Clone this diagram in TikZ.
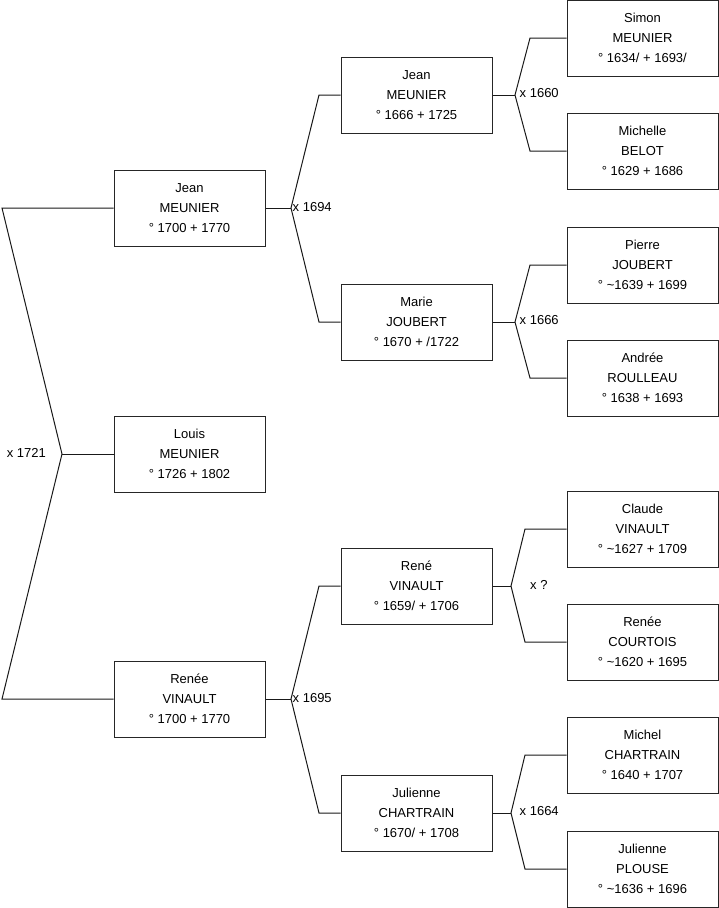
\documentclass[tikz,border=0pt]{standalone}
\usepackage{fontspec}
\setmainfont{Liberation Sans}
\begin{document}
\begin{tikzpicture}[x=1pt,y=-1pt,
  person/.style={draw=black!85, line width=1pt, minimum width=151pt, minimum height=76pt,
    inner sep=0pt, align=center, font=\fontsize{13}{20}\selectfont, text=black},
  link/.style={draw=black!90, line width=1pt},
  mlabel/.style={font=\fontsize{13}{15}\selectfont, inner sep=0pt, text=black}]
\useasboundingbox (0,0) rectangle (719,908);
% generation 1
\node[person] (JM1) at (189.5,208) {Jean\\MEUNIER\\° 1700 + 1770};
\node[person] (LM) at (189.5,454) {Louis\\MEUNIER\\° 1726 + 1802};
\node[person] (RV1) at (189.5,699) {Renée\\VINAULT\\° 1700 + 1770};
% generation 2
\node[person] (JM2) at (416.5,95) {Jean\\MEUNIER\\° 1666 + 1725};
\node[person] (MJ) at (416.5,322) {Marie\\JOUBERT\\° 1670 + /1722};
\node[person] (RV2) at (416.5,586) {René\\VINAULT\\° 1659/ + 1706};
\node[person] (JC) at (416.5,813) {Julienne\\CHARTRAIN\\° 1670/ + 1708};
% generation 3
\node[person] (SM) at (642.5,38) {Simon\\MEUNIER\\° 1634/ + 1693/};
\node[person] (MB) at (642.5,151) {Michelle\\BELOT\\° 1629 + 1686};
\node[person] (PJ) at (642.5,265) {Pierre\\JOUBERT\\° \textasciitilde1639 + 1699};
\node[person] (AR) at (642.5,378) {Andrée\\ROULLEAU\\° 1638 + 1693};
\node[person] (CV) at (642.5,529) {Claude\\VINAULT\\° \textasciitilde1627 + 1709};
\node[person] (RC) at (642.5,642) {Renée\\COURTOIS\\° \textasciitilde1620 + 1695};
\node[person] (MC) at (642.5,755) {Michel\\CHARTRAIN\\° 1640 + 1707};
\node[person] (JP) at (642.5,869) {Julienne\\PLOUSE\\° \textasciitilde1636 + 1696};
% junctions
\coordinate (a1) at (2,208);
\coordinate (a0) at (62,454);
\coordinate (a2) at (2,699);
\coordinate (b1) at (291,208);
\coordinate (b1u) at (319,95);
\coordinate (b1d) at (319,322);
\coordinate (b2) at (291,699);
\coordinate (b2u) at (319,586);
\coordinate (b2d) at (319,813);
\coordinate (c1) at (515,95);
\coordinate (c1u) at (530,38);
\coordinate (c1d) at (530,151);
\coordinate (c2) at (515,322);
\coordinate (c2u) at (530,265);
\coordinate (c2d) at (530,378);
\coordinate (c3) at (511,586);
\coordinate (c3u) at (525,529);
\coordinate (c3d) at (525,642);
\coordinate (c4) at (511,813);
\coordinate (c4u) at (525,755);
\coordinate (c4d) at (525,869);
% connectors
\draw[link] (JM1.west) -- (a1) -- (a0) -- (a2) -- (RV1.west);
\draw[link] (a0) -- (LM.west);
\draw[link] (JM1.east) -- (b1);
\draw[link] (JM2.west) -- (b1u) -- (b1) -- (b1d) -- (MJ.west);
\draw[link] (RV1.east) -- (b2);
\draw[link] (RV2.west) -- (b2u) -- (b2) -- (b2d) -- (JC.west);
\draw[link] (JM2.east) -- (c1);
\draw[link] (SM.west) -- (c1u) -- (c1) -- (c1d) -- (MB.west);
\draw[link] (MJ.east) -- (c2);
\draw[link] (PJ.west) -- (c2u) -- (c2) -- (c2d) -- (AR.west);
\draw[link] (RV2.east) -- (c3);
\draw[link] (CV.west) -- (c3u) -- (c3) -- (c3d) -- (RC.west);
\draw[link] (JC.east) -- (c4);
\draw[link] (MC.west) -- (c4u) -- (c4) -- (c4d) -- (JP.west);
% marriage labels
\node[mlabel, anchor=east] (m0) at (46,453) {x 1721};
\node[mlabel, anchor=west] (m1) at (292.5,207) {x 1694};
\node[mlabel, anchor=west] (m2) at (292.5,698) {x 1695};
\node[mlabel, anchor=west] (m3) at (519.5,93) {x 1660};
\node[mlabel, anchor=west] (m4) at (519.5,320) {x 1666};
\node[mlabel, anchor=west] (m5) at (530,585) {x ?};
\node[mlabel, anchor=west] (m6) at (519.5,811) {x 1664};
\end{tikzpicture}
\end{document}
